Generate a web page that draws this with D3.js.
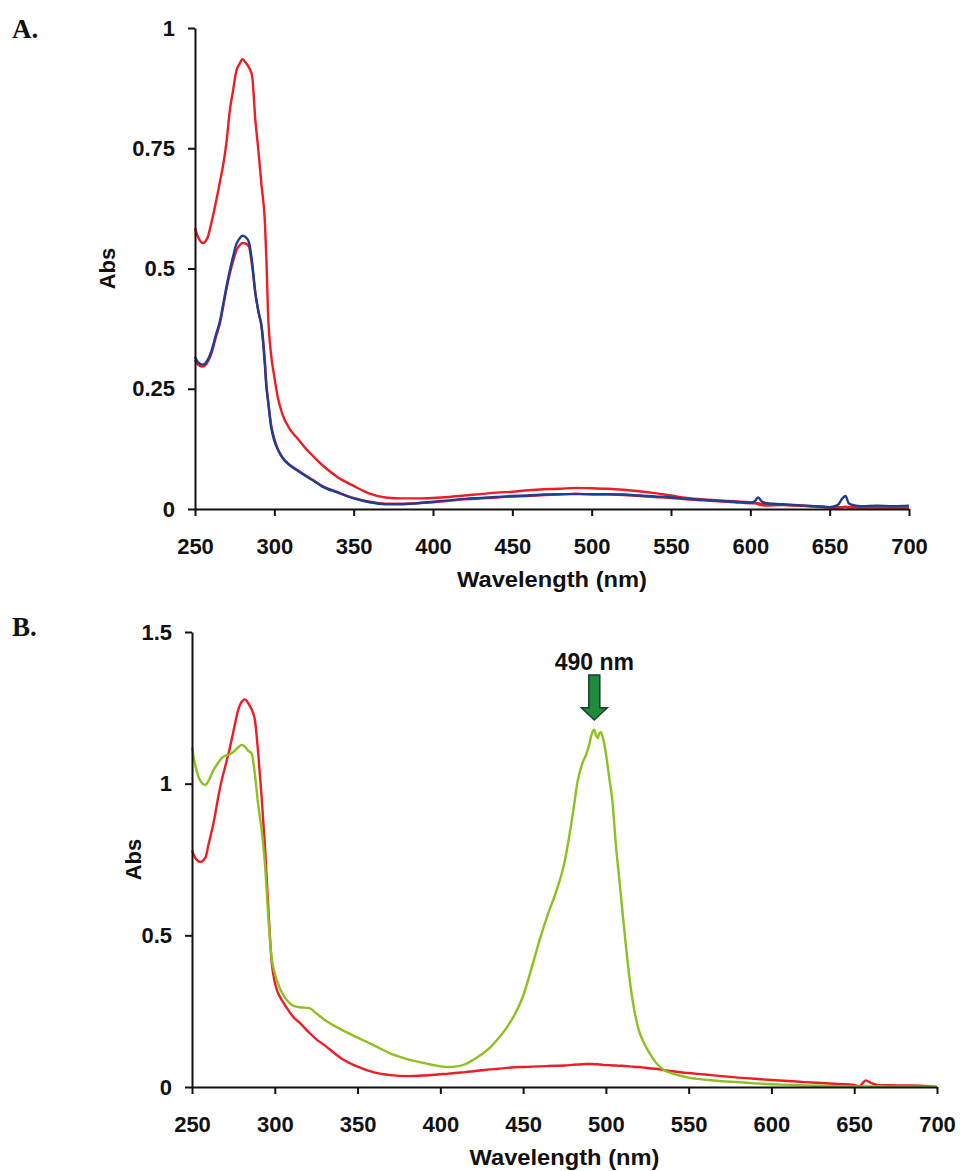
<!DOCTYPE html>
<html>
<head>
<meta charset="utf-8">
<script src="https://cdn.jsdelivr.net/npm/d3@7"></script>
<style>
  html, body { margin: 0; padding: 0; background: #ffffff; }
  svg { display: block; }
  .tick text { font-family: "Liberation Sans", Arial, sans-serif; font-weight: bold; font-size: 22px; fill: #111; }
  .ttl { font-family: "Liberation Sans", Arial, sans-serif; font-weight: bold; font-size: 22px; fill: #111; }
  .plabel { font-family: "Liberation Serif", "Times New Roman", serif; font-weight: bold; font-size: 27px; fill: #111; }
</style>
</head>
<body>
<svg id="chart" width="960" height="1171"></svg>
<script>
// ---------- DATA ----------
const xTicks = [250, 300, 350, 400, 450, 500, 550, 600, 650, 700];
const yTicksA = [0, 0.25, 0.5, 0.75, 1];
const yTicksB = [0, 0.5, 1, 1.5];
const yTickLabelsA = ["0", "0.25", "0.5", "0.75", "1"];
const yTickLabelsB = ["0", "0.5", "1", "1.5"];

// Panel A wavelengths (nm)
const waveA = [
  250,252,255,258,260,263,266,268,270,272,274,276,278,280,282,284,286,288,290,292,294,
  295,296,298,300,302,305,
  310,315,320,325,330,
  340,350,360,370,380,390,400,410,420,430,440,450,460,470,480,490,500,510,520,530,540,550,560,570,580,590,600,
  603,605,607,610,
  620,630,640,650,
  655,658,660,662,665,
  670,680,690,700
];
// Panel A: red, upper spectrum
const absA_redHigh = [
  0.584,0.565,0.553,0.565,0.590,0.635,0.685,0.720,0.767,0.830,0.870,0.910,0.925,0.935,0.928,0.918,0.900,0.810,0.744,0.670,0.600,
  0.520,0.410,0.320,0.275,0.235,0.198,
  0.165,0.145,0.125,0.108,0.092,
  0.066,0.048,0.032,0.024,0.022,0.022,0.023,0.025,0.028,0.031,0.034,0.036,0.039,0.041,0.042,0.044,0.043,0.042,0.040,0.037,0.033,0.028,0.023,0.020,0.018,0.016,0.014,
  0.013,0.012,0.010,0.011,
  0.009,0.007,0.006,0.004,
  0.004,0.004,0.005,0.004,0.004,
  0.003,0.003,0.002,0.002
];
// Panel A: red, lower spectrum
const absA_redLow = [
  0.310,0.300,0.296,0.306,0.320,0.355,0.390,0.425,0.460,0.490,0.515,0.537,0.548,0.553,0.552,0.545,0.505,0.450,0.410,0.378,0.310,
  0.258,0.228,0.175,0.146,0.126,0.108,
  0.091,0.080,0.069,0.059,0.048,
  0.035,0.023,0.015,0.011,0.011,0.012,0.014,0.017,0.020,0.022,0.024,0.026,0.027,0.029,0.030,0.032,0.030,0.030,0.029,0.027,0.025,0.023,0.020,0.018,0.016,0.014,0.012,
  0.012,0.010,0.008,0.007,
  0.008,0.007,0.005,0.003,
  0.002,0.003,0.004,0.003,0.003,
  0.003,0.002,0.002,0.001
];
// Panel A: blue spectrum
const absA_blue = [
  0.316,0.305,0.300,0.310,0.325,0.360,0.395,0.430,0.465,0.497,0.525,0.550,0.562,0.568,0.565,0.555,0.513,0.450,0.410,0.378,0.300,
  0.254,0.225,0.170,0.142,0.125,0.107,
  0.090,0.079,0.068,0.058,0.047,
  0.034,0.022,0.014,0.010,0.010,0.012,0.015,0.018,0.021,0.023,0.025,0.027,0.028,0.030,0.031,0.031,0.031,0.031,0.030,0.028,0.026,0.024,0.021,0.019,0.017,0.015,0.013,
  0.017,0.024,0.016,0.012,
  0.010,0.008,0.006,0.004,
  0.008,0.022,0.027,0.012,0.008,
  0.006,0.007,0.006,0.007
];

// Panel B wavelengths (nm)
const waveB = [
  250,252,255,258,260,263,266,268,270,272,274,276,278,280,282,284,286,288,290,292,294,
  296,298,300,302,305,308,
  311,315,321,325,330,340,
  350,360,370,380,390,400,
  405,410,415,420,425,430,435,440,445,450,
  455,460,465,470,475,480,483,486,488,490,
  491,492,493,494,495,496,497,498,500,502,
  504,506,508,510,512,514,516,518,520,523,
  526,530,535,540,550,560,
  570,580,590,600,610,620,630,640,
  650,653,655,657,660,665,
  670,680,690,700
];
// Panel B: green spectrum
const absB_green = [
  1.120,1.060,1.010,0.996,1.010,1.045,1.070,1.085,1.092,1.095,1.100,1.110,1.120,1.128,1.122,1.108,1.100,1.030,0.930,0.850,0.740,
  0.570,0.430,0.375,0.340,0.305,0.282,
  0.268,0.263,0.260,0.243,0.222,0.190,
  0.163,0.137,0.110,0.092,0.079,0.068,
  0.066,0.068,0.075,0.090,0.108,0.130,0.160,0.195,0.240,0.300,
  0.390,0.485,0.570,0.645,0.740,0.900,1.010,1.070,1.095,1.130,
  1.155,1.172,1.178,1.160,1.150,1.166,1.170,1.155,1.100,1.020,
  0.940,0.800,0.690,0.580,0.470,0.370,0.290,0.230,0.185,0.145,
  0.115,0.082,0.056,0.045,0.031,0.024,
  0.019,0.016,0.012,0.009,0.007,0.005,0.004,0.003,
  0.002,0.002,0.002,0.002,0.002,0.002,
  0.001,0.001,0.001,0.001
];
// Panel B: red spectrum
const absB_red = [
  0.780,0.755,0.742,0.755,0.800,0.870,0.960,1.013,1.055,1.098,1.146,1.198,1.245,1.270,1.278,1.265,1.245,1.210,1.100,0.960,0.800,
  0.600,0.420,0.345,0.310,0.280,0.255,
  0.232,0.212,0.178,0.158,0.138,0.095,
  0.067,0.048,0.039,0.036,0.038,0.042,
  0.044,0.047,0.049,0.052,0.055,0.058,0.060,0.063,0.065,0.066,
  0.067,0.068,0.069,0.070,0.071,0.073,0.074,0.075,0.076,0.076,
  0.076,0.076,0.075,0.075,0.075,0.074,0.074,0.073,0.072,0.072,
  0.071,0.071,0.070,0.070,0.069,0.068,0.067,0.066,0.066,0.064,
  0.062,0.060,0.056,0.052,0.046,0.041,
  0.036,0.031,0.027,0.023,0.020,0.016,0.013,0.010,
  0.007,0.002,0.012,0.022,0.014,0.006,
  0.006,0.005,0.004,0.000
];

// Annotation
const peakLabel = "490 nm";
const peakArrowWave = 493;
const arrowTop = 1.358, arrowHeadBase = 1.25, arrowTip = 1.21, labelAbs = 1.375;

// ---------- DRAW ----------
const svg = d3.select("#chart");
const RED = "#ee1c24", BLUE = "#1b3f92", GREEN = "#8cc11e";

function panel(cfg) {
  const x = d3.scaleLinear().domain([250, 700]).range([cfg.x0, cfg.x1]);
  const y = d3.scaleLinear().domain([0, cfg.ymax]).range([cfg.y0, cfg.y1]);
  const g = svg.append("g");

  // series
  const line = d3.line().x(d => x(d[0])).y(d => y(d[1])).curve(d3.curveMonotoneX);
  cfg.series.forEach(s => {
    const pts = cfg.wave.map((w, i) => [w, s.values[i]]);
    g.append("path").datum(pts)
      .attr("fill", "none").attr("stroke", s.color)
      .attr("stroke-width", 2.4).attr("stroke-linejoin", "round")
      .attr("d", line);
  });

  // axes
  const xAxis = d3.axisBottom(x).tickValues(xTicks).tickFormat(d3.format("d"))
    .tickSize(7).tickSizeOuter(0).tickPadding(22);
  const gx = g.append("g").attr("transform", `translate(0,${cfg.y0})`).call(xAxis);
  const yAxis = d3.axisLeft(y).tickValues(cfg.yTicks)
    .tickFormat((d, i) => cfg.yLabels[i])
    .tickSize(7).tickSizeOuter(0).tickPadding(13);
  const gy = g.append("g").attr("transform", `translate(${cfg.x0},0)`).call(yAxis);
  [gx, gy].forEach(a => {
    a.select(".domain").attr("stroke", "#111").attr("stroke-width", 2);
    a.selectAll(".tick line").attr("stroke", "#111").attr("stroke-width", 2);
  });

  // titles
  g.append("text").attr("class", "ttl")
    .attr("x", (cfg.x0 + cfg.x1) / 2).attr("y", cfg.y0 + 78)
    .attr("text-anchor", "middle")
    .attr("textLength", 190).attr("lengthAdjust", "spacingAndGlyphs")
    .text("Wavelength (nm)");
  g.append("text").attr("class", "ttl")
    .attr("transform", `translate(${cfg.absX},${(cfg.y0 + cfg.y1) / 2}) rotate(-90)`)
    .attr("text-anchor", "middle")
    .text("Abs");
  g.append("text").attr("class", "plabel")
    .attr("x", 12).attr("y", cfg.labelY).text(cfg.label);

  return { x, y, g };
}

panel({
  x0: 195, x1: 909, y0: 509, y1: 28, ymax: 1,
  yTicks: yTicksA, yLabels: yTickLabelsA, wave: waveA, absX: 115, label: "A.", labelY: 38,
  series: [
    { values: absA_redHigh, color: RED },
    { values: absA_redLow, color: RED },
    { values: absA_blue, color: BLUE }
  ]
});

const pB = panel({
  x0: 192, x1: 937, y0: 1087, y1: 632, ymax: 1.5,
  yTicks: yTicksB, yLabels: yTickLabelsB, wave: waveB, absX: 141, label: "B.", labelY: 636,
  series: [
    { values: absB_red, color: RED },
    { values: absB_green, color: GREEN }
  ]
});

// arrow annotation
const ax = pB.x(peakArrowWave);
const yt = pB.y(arrowTop), yb = pB.y(arrowHeadBase), ytip = pB.y(arrowTip);
const sw = 5.5, hw = 13;
const arrowPath = d3.path();
arrowPath.moveTo(ax - sw, yt);
arrowPath.lineTo(ax + sw, yt);
arrowPath.lineTo(ax + sw, yb);
arrowPath.lineTo(ax + hw, yb);
arrowPath.lineTo(ax, ytip);
arrowPath.lineTo(ax - hw, yb);
arrowPath.lineTo(ax - sw, yb);
arrowPath.closePath();
pB.g.append("path").attr("d", arrowPath.toString())
  .attr("fill", "#1f8a3c").attr("stroke", "#17402a").attr("stroke-width", 1.5)
  .attr("stroke-linejoin", "miter");
pB.g.append("text").attr("class", "ttl")
  .attr("x", ax).attr("y", pB.y(labelAbs))
  .attr("text-anchor", "middle").style("font-size", "23px")
  .text(peakLabel);
</script>
</body>
</html>
